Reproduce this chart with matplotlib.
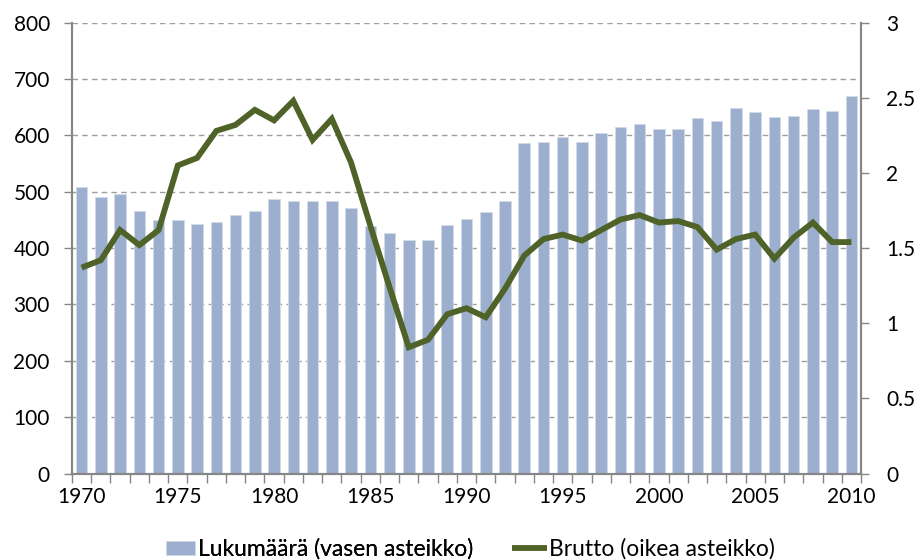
import matplotlib
matplotlib.use("Agg")
import matplotlib.pyplot as plt
import numpy as np

years = list(range(1970, 2011))
lukumaara = [509, 490, 496, 466, 449, 450, 442, 446, 459, 466,
             487, 483, 483, 484, 472, 440, 427, 415, 415, 441,
             451, 464, 483, 587, 589, 597, 589, 605, 615, 620,
             612, 611, 630, 626, 649, 642, 632, 635, 647, 644,
             670]
brutto = [1.37, 1.42, 1.62, 1.52, 1.62, 2.05, 2.10, 2.28, 2.32, 2.42,
          2.35, 2.48, 2.22, 2.36, 2.07, 1.65, 1.24, 0.84, 0.89, 1.06,
          1.10, 1.04, 1.23, 1.45, 1.56, 1.59, 1.55, 1.62, 1.69, 1.72,
          1.67, 1.68, 1.64, 1.49, 1.56, 1.59, 1.43, 1.57, 1.67, 1.54,
          1.54]
left_ticks = [0, 100, 200, 300, 400, 500, 600, 700, 800]
right_ticks = [0, 0.5, 1, 1.5, 2, 2.5, 3]
right_labels = ["0", "0.5", "1", "1.5", "2", "2.5", "3"]
label_years = [1970, 1975, 1980, 1985, 1990, 1995, 2000, 2005, 2010]
bar_label = "Lukumäärä (vasen asteikko)"
line_label = "Brutto (oikea asteikko)"

plt.rcParams['font.family'] = ['Lato', 'DejaVu Sans']
FS = 15
LFS = 16.5
axis_gray = '#868686'
grid_gray = '#9F9F9F'
bar_color = '#9DAFCE'
line_color = '#4F6228'

fig = plt.figure(figsize=(9.24, 5.6), dpi=100)
ax = fig.add_axes([72/924, 1-473.5/560, (861-72)/924, (473.5-22.7)/560])
ax2 = ax.twinx()

x = np.arange(len(years))
bars = ax.bar(x, lukumaara, width=0.6, color=bar_color, edgecolor='#D3DAE8',
              linewidth=0.6, label=bar_label, zorder=2)
line, = ax2.plot(x, brutto, color=line_color, linewidth=4.2,
                 solid_joinstyle='miter', solid_capstyle='butt', label=line_label, zorder=3)

ax.set_xlim(-0.5, len(years) - 0.5)
ax.set_ylim(0, 800)
ax2.set_ylim(0, 3)

# gridlines
ax.set_axisbelow(True)
for v in left_ticks[1:]:
    ax.axhline(v, color=grid_gray, linewidth=1.0, linestyle=(0, (4, 3)), zorder=0.5)

# x ticks: marks at boundaries, labels at centers
ax.set_xticks(np.arange(-0.5, len(years) + 0.5, 1.0))
ax.set_xticklabels([])
ax.set_xticks([years.index(y) for y in label_years], minor=True)
ax.set_xticklabels([str(y) for y in label_years], minor=True, fontsize=FS)
ax.tick_params(axis='x', which='major', direction='out', length=6.5, width=1, color=axis_gray)
ax.tick_params(axis='x', which='minor', length=0, pad=10)

ax.set_yticks(left_ticks)
ax.set_yticklabels([str(v) for v in left_ticks], fontsize=FS)
ax.tick_params(axis='y', direction='out', length=6, width=1, color=axis_gray, pad=10)

ax2.set_yticks(right_ticks)
ax2.set_yticklabels(right_labels, fontsize=FS)
ax2.tick_params(axis='y', direction='out', length=6, width=1, color=axis_gray, pad=12)
ax2.set_xlim(-0.5, len(years) - 0.5)

for a in (ax, ax2):
    a.spines['top'].set_visible(False)
    for s in ('left', 'right', 'bottom'):
        a.spines[s].set_color(axis_gray)
        a.spines[s].set_linewidth(1.5)

leg_y = 1 - 549/560
em = LFS * 100 / 72
leg1 = fig.legend(handles=[bars], labels=[bar_label], loc='center left',
                  bbox_to_anchor=(166/924, leg_y), frameon=False, fontsize=LFS,
                  borderpad=0, borderaxespad=0, handlelength=29/em,
                  handletextpad=3/em, handleheight=0.55)
fig.add_artist(leg1)
leg2 = fig.legend(handles=[line], labels=[line_label], loc='center left',
                  bbox_to_anchor=(512/924, leg_y), frameon=False, fontsize=LFS,
                  borderpad=0, borderaxespad=0, handlelength=35/em,
                  handletextpad=2/em)

fig.savefig("out.png", dpi=100)
